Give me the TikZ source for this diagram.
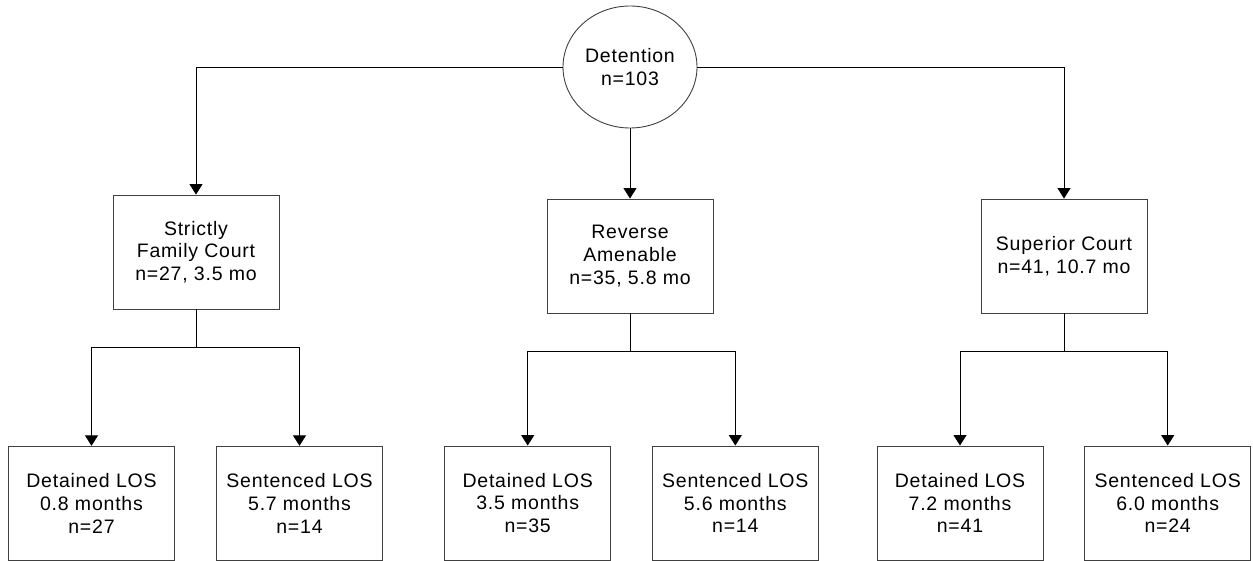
\documentclass[tikz,border=0pt]{standalone}
\usepackage{fontspec}
\setmainfont[LetterSpace=4]{Liberation Sans}
\usetikzlibrary{arrows.meta,shapes.geometric}

\begin{document}
\begin{tikzpicture}[x=1pt,y=-1pt,>={Triangle[width=13pt,length=10.5pt]},
  box/.style={draw=black!75,line width=0.9pt,minimum width=166pt,minimum height=114pt,inner sep=0pt,align=center,font=\fontsize{19.5}{22.7}\selectfont},
  root/.style={ellipse,draw=black!75,line width=0.9pt,minimum width=134pt,minimum height=122pt,inner sep=0pt,align=center,font=\fontsize{19.5}{22.7}\selectfont},
  link/.style={line width=0.9pt}]
\useasboundingbox (0,0) rectangle (1253,561);
\node[root] (det) at (630,67) {Detention\\n=103};
\node[box] (sfc) at (196,252) {Strictly\\Family Court\\n=27, 3.5 mo};
\node[box] (ra) at (630,256) {Reverse\\Amenable\\n=35, 5.8 mo};
\node[box] (sc) at (1064,256) {Superior Court\\n=41, 10.7 mo};
\node[box] (sfcdet) at (91.5,503.3) {Detained LOS\\0.8 months\\n=27};
\node[box] (sfcsen) at (299.5,503.3) {Sentenced LOS\\5.7 months\\n=14};
\node[box] (radet) at (527.7,503) {Detained LOS\\3.5 months\\n=35};
\node[box] (rasen) at (735.3,503) {Sentenced LOS\\5.6 months\\n=14};
\node[box] (scdet) at (960,503) {Detained LOS\\7.2 months\\n=41};
\node[box] (scsen) at (1167.7,503) {Sentenced LOS\\6.0 months\\n=24};
\draw[link,->] (det.west) -| (sfc);
\draw[link,->] (det) -- (ra);
\draw[link,->] (det.east) -| (sc);
\draw[link] (sfc.south) -- ++(0,38.3) coordinate (sfcjoin);
\draw[link,->] (sfcjoin) -| (sfcdet);
\draw[link,->] (sfcjoin) -| (sfcsen);
\draw[link] (ra.south) -- ++(0,37.7) coordinate (rajoin);
\draw[link,->] (rajoin) -| (radet);
\draw[link,->] (rajoin) -| (rasen);
\draw[link] (sc.south) -- ++(0,37.7) coordinate (scjoin);
\draw[link,->] (scjoin) -| (scdet);
\draw[link,->] (scjoin) -| (scsen);
\end{tikzpicture}
\end{document}
